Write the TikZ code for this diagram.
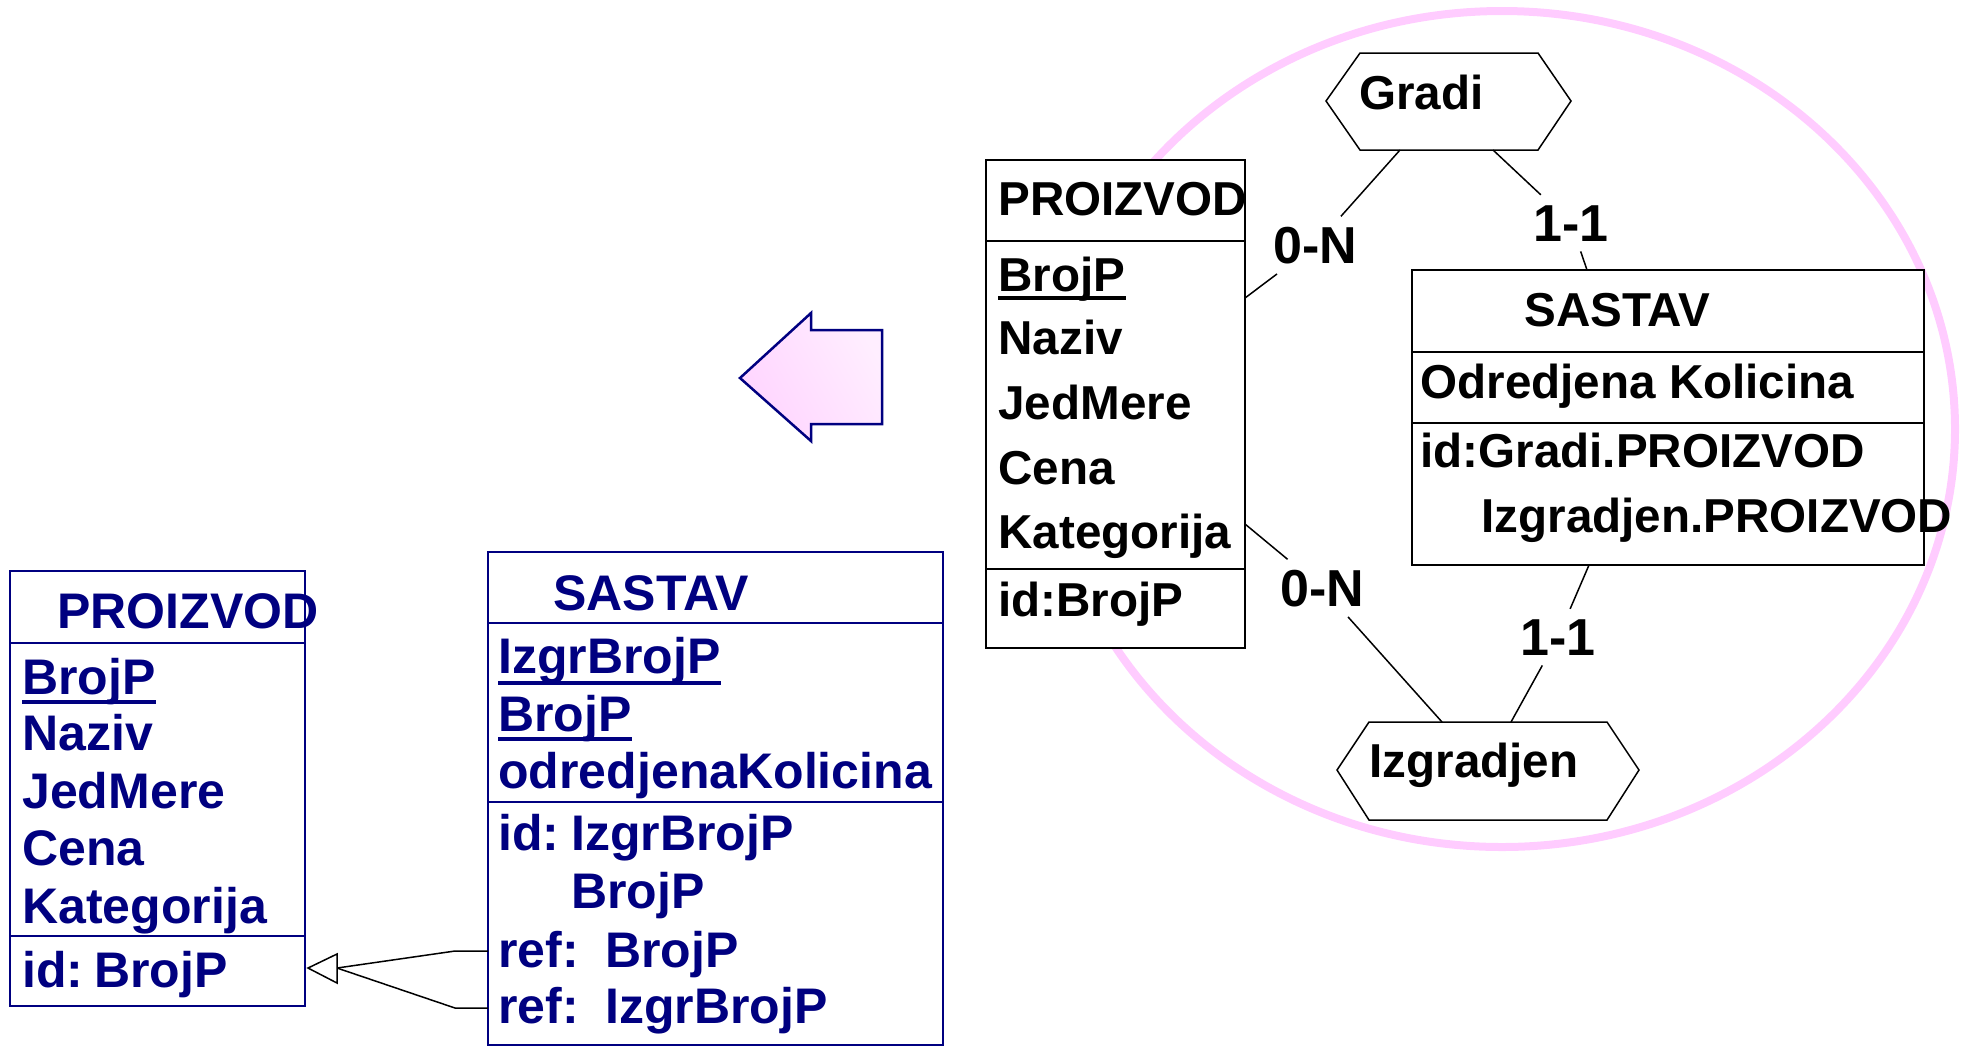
\documentclass[tikz,border=0pt]{standalone}
\usepackage{fontspec}
\setmainfont{Liberation Sans}
\usetikzlibrary{fit}
\definecolor{navyc}{RGB}{0,0,128}
\definecolor{pinkline}{RGB}{255,204,255}
\definecolor{pinkA}{RGB}{255,212,255}
\definecolor{pinkB}{RGB}{255,238,255}
\tikzset{
  lt/.style={anchor=base west, inner sep=0, text=navyc, font=\fontsize{25pt}{30pt}\selectfont\bfseries},
  rt/.style={anchor=base west, inner sep=0, font=\fontsize{23.8pt}{28pt}\selectfont\bfseries},
  card/.style={anchor=base west, inner sep=5pt, font=\fontsize{26pt}{30pt}\selectfont\bfseries},
  lbox/.style={draw=navyc, line width=1pt, fill=white, inner sep=0},
  rbox/.style={draw=black, line width=1pt, fill=white, inner sep=0},
  ldiv/.style={draw=navyc, line width=1pt},
  rdiv/.style={draw=black, line width=1pt},
  conn/.style={draw=black, line width=0.75pt},
  lul/.style={draw=navyc, line width=2pt},
  rul/.style={draw=black, line width=1.75pt},
  hexa/.style={draw=black, line width=0.75pt, fill=white}
}
\begin{document}
\begin{tikzpicture}[x=0.5pt,y=-0.5pt]
\useasboundingbox (0,0) rectangle (1963,1046);

% pink ellipse
\draw[pinkline, line width=4pt] (1502,429) ellipse [x radius=226.5pt, y radius=209pt];

% big arrow
\path[draw=navyc, line width=1.25pt, left color=pinkA, right color=pinkB, shading angle=120]
  (740,378) -- (811,313) -- (811,330) -- (882,330) -- (882,424) -- (811,424) -- (811,441) -- cycle;

% ---------- left PROIZVOD ----------
\node[lbox, fit={(10,571) (305,1006)}] (lp) {};
\draw[ldiv] (10,643) -- (305,643);
\draw[ldiv] (10,936) -- (305,936);
\node[lt] (lpT) at (57,628) {PROIZVOD};
\node[lt] (lp1) at (22,694) {BrojP};
\draw[lul] ([yshift=-4pt]lp1.base west) -- ([yshift=-4pt]lp1.base east);
\node[lt] (lp2) at (22,750) {Naziv};
\node[lt] (lp3) at (22,808) {JedMere};
\node[lt] (lp4) at (22,865) {Cena};
\node[lt] (lp5) at (22,923) {Kategorija};
\node[lt] (lp6) at (22,987) {id:};
\node[lt] (lp7) at (94,987) {BrojP};

% ---------- left SASTAV ----------
\node[lbox, fit={(488,552) (943,1045)}] (ls) {};
\draw[ldiv] (488,623) -- (943,623);
\draw[ldiv] (488,802) -- (943,802);
\node[lt] (lsT) at (553,610) {SASTAV};
\node[lt] (ls1) at (498,673) {IzgrBrojP};
\draw[lul] ([yshift=-5pt]ls1.base west) -- ([yshift=-5pt]ls1.base east);
\node[lt] (ls2) at (498,731) {BrojP};
\draw[lul] ([yshift=-4pt]ls2.base west) -- ([yshift=-4pt]ls2.base east);
\node[lt] (ls3) at (498,788) {odredjenaKolicina};
\node[lt] (ls4) at (498,850) {id:};
\node[lt] (ls5) at (571,850) {IzgrBrojP};
\node[lt] (ls6) at (571,908) {BrojP};
\node[lt] (ls7) at (498,967) {ref:};
\node[lt] (ls8) at (605,967) {BrojP};
\node[lt] (ls9) at (498,1023) {ref:};
\node[lt] (ls10) at (605,1023) {IzgrBrojP};

% inheritance connector
\coordinate (r1) at (488,951);
\coordinate (r2) at (488,1008);
\coordinate (k1) at (455,951);
\coordinate (k2) at (455,1008);
\coordinate (tb) at (337,968);
\coordinate (tip) at (308,968);
\draw[conn] (r1) -- (k1) -- (tb);
\draw[conn] (r2) -- (k2) -- (tb);
\draw[conn, fill=white] (tip) -- (337,954) -- (337,983) -- cycle;

% ---------- right PROIZVOD ----------
\node[rbox, fit={(986,160) (1245,648)}] (rp) {};
\draw[rdiv] (986,241) -- (1245,241);
\draw[rdiv] (986,569) -- (1245,569);
\node[rt] (rpT) at (998,215) {PROIZVOD};
\node[rt] (rp1) at (998,291) {BrojP};
\draw[rul] ([yshift=-3.5pt]rp1.base west) -- ([yshift=-3.5pt]rp1.base east);
\node[rt] (rp2) at (998,354) {Naziv};
\node[rt] (rp3) at (998,419) {JedMere};
\node[rt] (rp4) at (998,484) {Cena};
\node[rt] (rp5) at (998,548) {Kategorija};
\node[rt] (rp6) at (998,616) {id:BrojP};

% ---------- right SASTAV ----------
\node[rbox, fit={(1412,270) (1924,565)}] (rs) {};
\draw[rdiv] (1412,352) -- (1924,352);
\draw[rdiv] (1412,423) -- (1924,423);
\node[rt] (rsT) at (1524,326) {SASTAV};
\node[rt] (rs1) at (1420,398) {Odredjena Kolicina};
\node[rt] (rs2) at (1420,467) {id:Gradi.PROIZVOD};
\node[rt] (rs3) at (1481,532) {Izgradjen.PROIZVOD};

% ---------- hexagons ----------
\node[inner sep=0, fit={(1326,53) (1571,150)}] (gradi) {};
\draw[hexa] (1326,101) -- (1360,53) -- (1538,53) -- (1571,101) -- (1538,150) -- (1360,150) -- cycle;
\node[rt] (gradiT) at (1359,109) {Gradi};

\node[inner sep=0, fit={(1337,722) (1639,820)}] (izg) {};
\draw[hexa] (1337,770) -- (1369,722) -- (1607,722) -- (1639,770) -- (1607,820) -- (1369,820) -- cycle;
\node[rt] (izgT) at (1369,777) {Izgradjen};

% ---------- role connectors ----------
\coordinate (g1) at (1400,150);
\coordinate (p1) at (1245,298);
\coordinate (g2) at (1493,150);
\coordinate (s1) at (1587,270);
\coordinate (p2) at (1245,524);
\coordinate (i1) at (1442,722);
\coordinate (s2) at (1589,565);
\coordinate (i2) at (1511,722);

\node[card] (c1) at (1263,263) {0-N};
\node[card] (c2) at (1523,241) {1-1};
\node[card] (c3) at (1270,606) {0-N};
\node[card] (c4) at (1510,655) {1-1};

\draw[conn] (g1) -- (c1) -- (p1);
\draw[conn] (g2) -- (c2) -- (s1);
\draw[conn] (p2) -- (c3) -- (i1);
\draw[conn] (s2) -- (c4) -- (i2);
\end{tikzpicture}
\end{document}
